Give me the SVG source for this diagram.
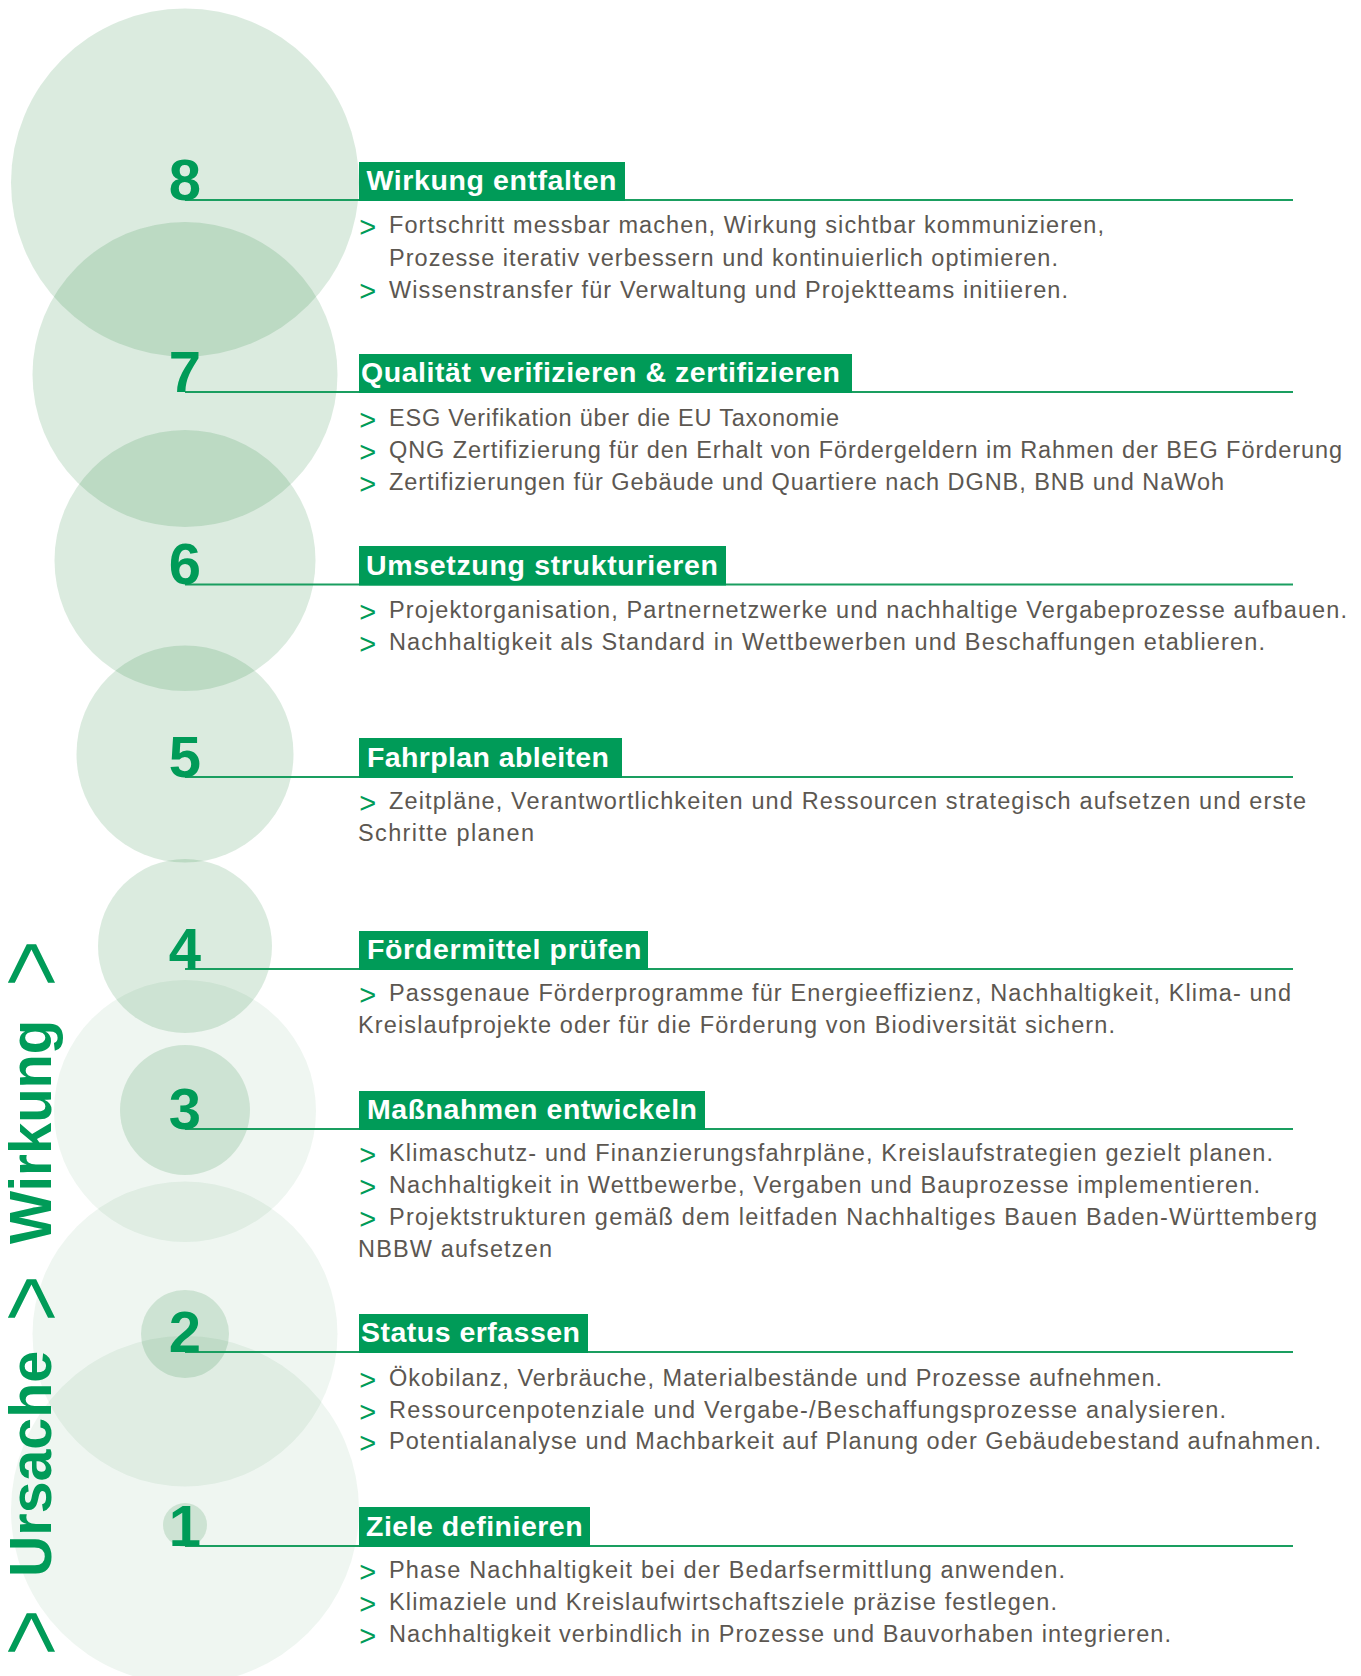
<svg xmlns="http://www.w3.org/2000/svg" width="1361" height="1676" viewBox="0 0 1361 1676">
<style>
.cd{fill:#0f7a2a;fill-opacity:0.15}
.cl{fill:#0f7a2a;fill-opacity:0.065}
.num{font-family:"Liberation Sans",Arial,sans-serif;font-weight:bold;font-size:58px;fill:#009b58;text-anchor:middle}
.hb{fill:#009b58}
.ht{font-family:"Liberation Sans",Arial,sans-serif;font-weight:bold;font-size:28.5px;fill:#ffffff}
.rule{stroke:#1a9e60;stroke-width:2;fill:none}
.bul{font-family:"Liberation Sans",Arial,sans-serif;font-size:29px;fill:#009b58}
.bt{font-family:"Liberation Sans",Arial,sans-serif;font-size:23.5px;fill:#5c5751}
.side{font-family:"Liberation Sans",Arial,sans-serif;font-weight:bold;font-size:60px;fill:#009b58}
.chev{font-family:"Liberation Sans",Arial,sans-serif;font-size:92px;fill:#009b58}
</style>
<rect width="1361" height="1676" fill="#ffffff"/>
<g id="circles">
<circle class="cd" cx="185" cy="182.5" r="174"/>
<circle class="cd" cx="185" cy="374.5" r="152.5"/>
<circle class="cd" cx="185" cy="560.5" r="130.5"/>
<circle class="cd" cx="185" cy="754" r="108.5"/>
<circle class="cd" cx="185" cy="946" r="87"/>
<circle class="cl" cx="185" cy="1111" r="131"/>
<circle class="cd" cx="185" cy="1110" r="65"/>
<circle class="cl" cx="185" cy="1334" r="152.5"/>
<circle class="cd" cx="185" cy="1334" r="44"/>
<circle class="cl" cx="185" cy="1510" r="174"/>
<circle class="cd" cx="185" cy="1525" r="22"/>
</g>
<g id="side-label">
<text class="chev" transform="translate(62,1655.8) rotate(-90) scale(0.865,1)">&gt;</text>
<text class="side" transform="translate(51,1577) rotate(-90)" textLength="226" lengthAdjust="spacingAndGlyphs">Ursache</text>
<text class="chev" transform="translate(62,1321.8) rotate(-90) scale(0.865,1)">&gt;</text>
<text class="side" transform="translate(51,1244) rotate(-90)" textLength="224" lengthAdjust="spacingAndGlyphs">Wirkung</text>
<text class="chev" transform="translate(62,986.8) rotate(-90) scale(0.865,1)">&gt;</text>
</g>
<g id="connectors">
<line class="rule" x1="185" y1="200" x2="1293" y2="200"/>
<line class="rule" x1="185" y1="392" x2="1293" y2="392"/>
<line class="rule" x1="185" y1="584.5" x2="1293" y2="584.5"/>
<line class="rule" x1="185" y1="777" x2="1293" y2="777"/>
<line class="rule" x1="185" y1="969" x2="1293" y2="969"/>
<line class="rule" x1="185" y1="1129" x2="1293" y2="1129"/>
<line class="rule" x1="185" y1="1352" x2="1293" y2="1352"/>
<line class="rule" x1="185" y1="1546" x2="1293" y2="1546"/>
</g>
<g id="step-8">
<text class="num" x="185" y="199.5">8</text>
<rect class="hb" x="359" y="162" width="266" height="39"/>
<text class="ht" x="366.5" y="190" textLength="250">Wirkung entfalten</text>
<text class="bul" x="359.3" y="236.8">&gt;</text>
<text class="bt" x="389" y="233.3" textLength="715">Fortschritt messbar machen, Wirkung sichtbar kommunizieren,</text>
<text class="bt" x="389" y="265.7" textLength="669">Prozesse iterativ verbessern und kontinuierlich optimieren.</text>
<text class="bul" x="359.3" y="301.2">&gt;</text>
<text class="bt" x="389" y="297.7" textLength="679">Wissenstransfer für Verwaltung und Projektteams initiieren.</text>
</g>
<g id="step-7">
<text class="num" x="185" y="391.5">7</text>
<rect class="hb" x="359" y="354" width="493" height="39"/>
<text class="ht" x="361" y="382" textLength="479">Qualität verifizieren &amp; zertifizieren</text>
<text class="bul" x="359.3" y="429.5">&gt;</text>
<text class="bt" x="389" y="426" textLength="450">ESG Verifikation über die EU Taxonomie</text>
<text class="bul" x="359.3" y="461.5">&gt;</text>
<text class="bt" x="389" y="458" textLength="953">QNG Zertifizierung für den Erhalt von Fördergeldern im Rahmen der BEG Förderung</text>
<text class="bul" x="359.3" y="493.5">&gt;</text>
<text class="bt" x="389" y="490" textLength="835">Zertifizierungen für Gebäude und Quartiere nach DGNB, BNB und NaWoh</text>
</g>
<g id="step-6">
<text class="num" x="185" y="584">6</text>
<rect class="hb" x="359" y="546" width="367" height="39.5"/>
<text class="ht" x="366" y="574.5" textLength="352">Umsetzung strukturieren</text>
<text class="bul" x="359.3" y="621.8">&gt;</text>
<text class="bt" x="389" y="618.3" textLength="958">Projektorganisation, Partnernetzwerke und nachhaltige Vergabeprozesse aufbauen.</text>
<text class="bul" x="359.3" y="653.5">&gt;</text>
<text class="bt" x="389" y="650" textLength="876">Nachhaltigkeit als Standard in Wettbewerben und Beschaffungen etablieren.</text>
</g>
<g id="step-5">
<text class="num" x="185" y="776.5">5</text>
<rect class="hb" x="359" y="738" width="263" height="40"/>
<text class="ht" x="367" y="767" textLength="242">Fahrplan ableiten</text>
<text class="bul" x="359.3" y="812.8">&gt;</text>
<text class="bt" x="389" y="809.3" textLength="917">Zeitpläne, Verantwortlichkeiten und Ressourcen strategisch aufsetzen und erste</text>
<text class="bt" x="358" y="841" textLength="176">Schritte planen</text>
</g>
<g id="step-4">
<text class="num" x="185" y="968.5">4</text>
<rect class="hb" x="359" y="931" width="289" height="39"/>
<text class="ht" x="367" y="959" textLength="274.5">Fördermittel prüfen</text>
<text class="bul" x="359.3" y="1004.5">&gt;</text>
<text class="bt" x="389" y="1001" textLength="902">Passgenaue Förderprogramme für Energieeffizienz, Nachhaltigkeit, Klima- und</text>
<text class="bt" x="358" y="1033" textLength="757">Kreislaufprojekte oder für die Förderung von Biodiversität sichern.</text>
</g>
<g id="step-3">
<text class="num" x="185" y="1128.5">3</text>
<rect class="hb" x="359" y="1091" width="346" height="39"/>
<text class="ht" x="367" y="1119" textLength="330">Maßnahmen entwickeln</text>
<text class="bul" x="359.3" y="1164.5">&gt;</text>
<text class="bt" x="389" y="1161" textLength="884">Klimaschutz- und Finanzierungsfahrpläne, Kreislaufstrategien gezielt planen.</text>
<text class="bul" x="359.3" y="1196.5">&gt;</text>
<text class="bt" x="389" y="1193" textLength="871">Nachhaltigkeit in Wettbewerbe, Vergaben und Bauprozesse implementieren.</text>
<text class="bul" x="359.3" y="1228.5">&gt;</text>
<text class="bt" x="389" y="1225" textLength="928">Projektstrukturen gemäß dem leitfaden Nachhaltiges Bauen Baden-Württemberg</text>
<text class="bt" x="358" y="1257" textLength="194">NBBW aufsetzen</text>
</g>
<g id="step-2">
<text class="num" x="185" y="1351.5">2</text>
<rect class="hb" x="359" y="1314" width="229" height="39"/>
<text class="ht" x="361" y="1342" textLength="219">Status erfassen</text>
<text class="bul" x="359.3" y="1389.5">&gt;</text>
<text class="bt" x="389" y="1386" textLength="773">Ökobilanz, Verbräuche, Materialbestände und Prozesse aufnehmen.</text>
<text class="bul" x="359.3" y="1421.5">&gt;</text>
<text class="bt" x="389" y="1418" textLength="837">Ressourcenpotenziale und Vergabe-/Beschaffungsprozesse analysieren.</text>
<text class="bul" x="359.3" y="1452.5">&gt;</text>
<text class="bt" x="389" y="1449" textLength="932">Potentialanalyse und Machbarkeit auf Planung oder Gebäudebestand aufnahmen.</text>
</g>
<g id="step-1">
<text class="num" x="185" y="1545.5">1</text>
<rect class="hb" x="359" y="1507" width="231" height="40"/>
<text class="ht" x="366" y="1536" textLength="216.6">Ziele definieren</text>
<text class="bul" x="359.3" y="1581.5">&gt;</text>
<text class="bt" x="389" y="1578" textLength="676">Phase Nachhaltigkeit bei der Bedarfsermittlung anwenden.</text>
<text class="bul" x="359.3" y="1613.5">&gt;</text>
<text class="bt" x="389" y="1610" textLength="668">Klimaziele und Kreislaufwirtschaftsziele präzise festlegen.</text>
<text class="bul" x="359.3" y="1645.5">&gt;</text>
<text class="bt" x="389" y="1642" textLength="782">Nachhaltigkeit verbindlich in Prozesse und Bauvorhaben integrieren.</text>
</g>
</svg>
